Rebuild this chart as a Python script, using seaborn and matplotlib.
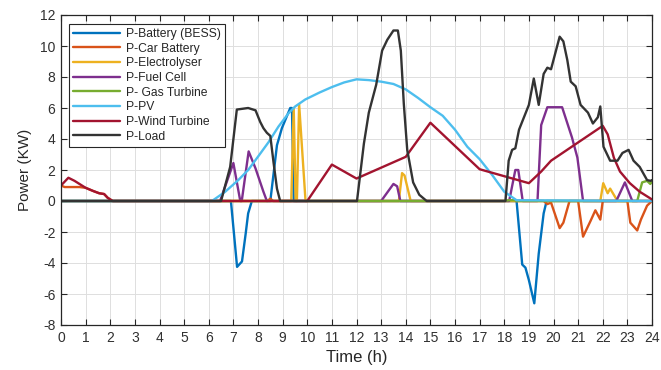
import numpy as np
import pandas as pd
import matplotlib
matplotlib.use("Agg")
import matplotlib.pyplot as plt
import seaborn as sns
from matplotlib.lines import Line2D

# ---------------- data ----------------
series_names = ["P-Battery (BESS)", "P-Car Battery", "P-Electrolyser", "P-Fuel Cell",
                "P- Gas Turbine", "P-PV", "P-Wind Turbine", "P-Load"]
series_colors = ["#0072BD", "#D95319", "#EDB120", "#7E2F8E",
                 "#77AC30", "#4DBEEE", "#A2142F", "#333333"]

bess_t = [0, 6.9, 7.15, 7.35, 7.5, 7.6, 7.75, 8.5, 8.77, 8.97, 9.31, 9.38, 9.45,
          18.5, 18.73, 18.86, 19.0, 19.22, 19.4, 19.6, 19.72, 24]
bess_p = [0, 0, -4.25, -3.9, -2.1, -0.8, 0, 0, 3.6, 4.7, 6.0, 6.0, 0,
          0, -4.1, -4.3, -5.1, -6.6, -3.4, -0.8, 0, 0]

car_t = [0, 0.15, 0.75, 1.0, 1.3, 1.55, 1.75, 1.9, 2.1, 8.38, 8.5, 8.62,
         19.6, 19.75, 19.9, 20.25, 20.4, 20.65, 21.0, 21.2, 21.5, 21.7, 21.9, 22.0,
         23.0, 23.12, 23.4, 23.55, 23.8, 24]
car_p = [1.0, 0.9, 0.9, 0.85, 0.65, 0.5, 0.45, 0.2, 0, 0, 0.15, 0,
         0, -0.2, -0.1, -1.75, -1.4, 0, 0, -2.3, -1.3, -0.6, -1.2, 0,
         0, -1.4, -1.9, -1.2, -0.3, 0]

elec_t = [0, 9.35, 9.45, 9.53, 9.58, 9.67, 9.93, 13.72, 13.85, 13.95, 14.2,
          21.9, 22.02, 22.2, 22.3, 22.45, 22.6, 24]
elec_p = [0, 0, 6.0, 0, 0, 6.25, 0, 0, 1.8, 1.65, 0,
          0, 1.15, 0.5, 0.8, 0.4, 0, 0]

fuel_t = [0, 6.46, 7.0, 7.28, 7.34, 7.62, 7.9, 8.22, 8.36, 13.0, 13.5, 13.65, 13.78,
          18.2, 18.45, 18.57, 18.75, 19.35, 19.5, 19.75, 20.35, 20.75, 20.97, 21.2,
          22.55, 22.9, 23.2, 24]
fuel_p = [0, 0, 2.45, 0, 0, 3.2, 2.1, 0.6, 0, 0, 1.1, 0.95, 0,
          0, 2.0, 2.0, 0, 0, 4.9, 6.05, 6.05, 4.1, 2.8, 0,
          0, 1.2, 0, 0]

gas_t = [0, 18.0, 18.2, 18.4, 18.5, 23.4, 23.6, 23.8, 23.93, 24]
gas_p = [0, 0, 0.05, 0.05, 0, 0, 1.2, 1.3, 1.1, 1.25]

pv_t = [0, 6.13, 6.67, 7.2, 7.6, 8.0, 8.43, 8.83, 9.24, 9.51, 9.92, 10.5, 11.0, 11.5,
        12.0, 12.5, 13.0, 13.5, 14.0, 14.5, 15.0, 15.5, 16.0, 16.5, 17.0, 17.5,
        18.0, 18.5, 24]
pv_p = [0, 0, 0.6, 1.35, 2.0, 2.86, 3.8, 4.8, 5.66, 6.1, 6.55, 7.0, 7.35, 7.65,
        7.85, 7.8, 7.7, 7.55, 7.2, 6.65, 6.05, 5.5, 4.6, 3.5, 2.7, 1.7,
        0.6, 0.05, 0]

wind_t = [0, 0.3, 0.55, 0.8, 1.0, 1.3, 1.55, 1.75, 1.9, 2.1, 10.0, 11.0, 12.0, 14.0,
          15.0, 17.0, 19.0, 19.5, 19.9, 22.0, 22.2, 22.45, 22.7, 23.1, 23.5, 23.9, 24]
wind_p = [1.0, 1.5, 1.3, 1.05, 0.85, 0.65, 0.5, 0.45, 0.2, 0, 0, 2.35, 1.45, 2.85,
          5.05, 2.05, 1.15, 1.9, 2.6, 4.85, 4.3, 2.8, 1.9, 1.15, 0.6, 0.2, 0.1]

load_t = [0, 6.5, 6.87, 7.14, 7.6, 7.9, 8.09, 8.22, 8.36, 8.5, 8.63, 8.77, 8.9,
          12.02, 12.3, 12.5, 12.65, 12.8, 13.04, 13.25, 13.5, 13.68, 13.8, 13.92,
          14.06, 14.3, 14.55, 14.85,
          18.05, 18.18, 18.32, 18.45, 18.6, 18.8, 19.0, 19.2, 19.4, 19.6, 19.75,
          19.9, 20.1, 20.25, 20.4, 20.56, 20.7, 20.9, 21.1, 21.4, 21.6, 21.8, 21.9,
          22.03, 22.3, 22.6, 22.8, 23.05, 23.25, 23.5, 23.8, 23.94, 24]
load_p = [0, 0, 2.2, 5.9, 6.0, 5.85, 5.1, 4.7, 4.4, 4.2, 2.5, 0.8, 0,
          0, 3.7, 5.7, 6.6, 7.5, 9.7, 10.4, 11.0, 11.0, 9.7, 6.3,
          3.3, 1.2, 0.4, 0,
          0, 2.6, 3.3, 3.4, 4.6, 5.4, 6.2, 7.9, 6.2, 8.2, 8.6,
          8.5, 9.7, 10.6, 10.3, 9.1, 7.7, 7.4, 6.2, 5.7, 5.0, 5.4, 6.1,
          3.5, 2.6, 2.6, 3.1, 3.3, 2.6, 2.2, 1.35, 1.3, 1.35]

x_ticks = list(range(0, 25))
y_ticks = list(range(-8, 13, 2))

# ---------------- build long table ----------------
all_t = [bess_t, car_t, elec_t, fuel_t, gas_t, pv_t, wind_t, load_t]
all_p = [bess_p, car_p, elec_p, fuel_p, gas_p, pv_p, wind_p, load_p]
frames = []
for name, t, p in zip(series_names, all_t, all_p):
    frames.append(pd.DataFrame({"t": t, "P": p, "series": name}))
df = pd.concat(frames, ignore_index=True)

# ---------------- plot ----------------
sns.set_theme(style="whitegrid")
plt.rcParams["font.family"] = ["Liberation Sans", "DejaVu Sans"]

fig = plt.figure(figsize=(6.61, 3.70), dpi=100)
ax = fig.add_axes([61 / 661, 45 / 370, (652 - 61) / 661, (325 - 15) / 370])

sns.lineplot(data=df, x="t", y="P", hue="series", hue_order=series_names,
             palette=series_colors, sort=False, estimator=None, units="series",
             linewidth=1.7, legend=False, ax=ax)

ax.set_xlim(0, 24)
ax.set_ylim(-8, 12)
ax.set_xticks(x_ticks)
ax.set_yticks(y_ticks)
ax.set_xticklabels([str(v) for v in x_ticks])
ax.set_yticklabels([str(v) for v in y_ticks])
ax.set_xlabel("Time (h)", fontsize=12, color="#262626", labelpad=4)
ax.set_ylabel("Power (KW)", fontsize=11, color="#262626", labelpad=6)

ax.set_facecolor("white")
ax.grid(True, color="#dedede", linewidth=0.7)
for s in ax.spines.values():
    s.set_visible(True)
    s.set_color("#262626")
    s.set_linewidth(0.9)
ax.tick_params(axis="both", which="both", direction="in", length=4, width=0.8,
               top=True, right=True, bottom=True, left=True,
               labelsize=10, labelcolor="#303030", color="#262626", pad=4)

handles = [Line2D([0], [0], color=c, lw=1.7) for c in series_colors]
leg = ax.legend(handles, series_names, loc="upper left",
                bbox_to_anchor=(0.0135, 0.972), borderaxespad=0,
                fontsize=8.7, handlelength=3.9, handletextpad=0.45,
                labelspacing=0.22, borderpad=0.35, frameon=True,
                fancybox=False, framealpha=1, edgecolor="#262626")
leg.get_frame().set_linewidth(0.8)
for txt in leg.get_texts():
    txt.set_color("#262626")

fig.savefig("out.png", dpi=100, facecolor="white")
